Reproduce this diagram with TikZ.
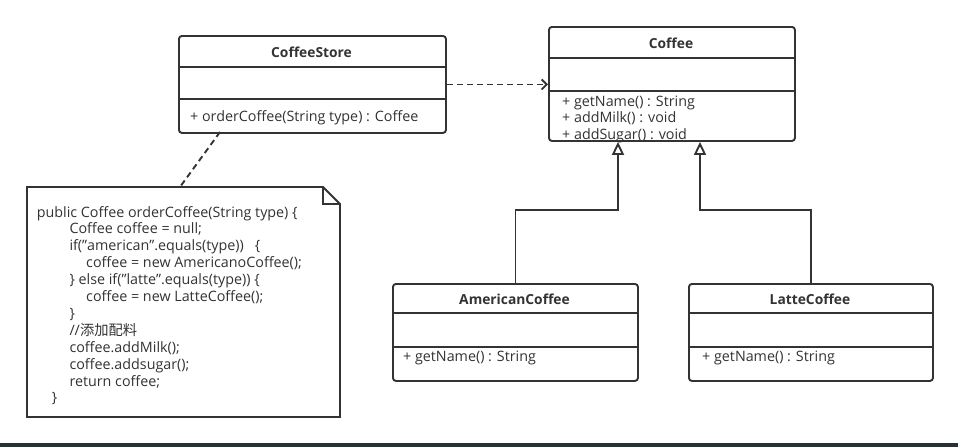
\documentclass[tikz,border=0pt]{standalone}
\usepackage{fontspec}
\setmainfont{Open Sans}
\newfontfamily\cjk{Noto Sans CJK SC}
\usetikzlibrary{arrows.meta}
\definecolor{ink}{HTML}{333333}
\definecolor{barc}{HTML}{263238}
\begin{document}
\begin{tikzpicture}[x=1pt,y=-1pt,
  box/.style={draw=ink, line width=1.9pt, rounded corners=3pt, anchor=north west, inner sep=0pt, fill=white},
  sep/.style={draw=ink, line width=1.9pt},
  title/.style={font=\fontsize{13.8}{16}\selectfont\bfseries, text=ink, anchor=base, inner sep=0pt},
  meth/.style={font=\fontsize{14.3}{16}\selectfont, text=ink, anchor=base west, inner sep=0pt},
  code/.style={font=\fontsize{14.3}{16}\selectfont, text=ink, anchor=base west, inner sep=0pt},
  dep/.style={draw=ink, line width=1.9pt, dash pattern=on 6pt off 4pt, -{Straight Barb[length=5pt,width=10pt]}},
  notelink/.style={draw=ink, line width=1.9pt, dash pattern=on 6pt off 4pt},
  gen/.style={draw=ink, line width=1.9pt, -{Triangle[open,length=13pt,width=12pt,fill=white]}},
]
\useasboundingbox (0,0) rectangle (958,447);
\fill[white] (0,0) rectangle (958,447);
\fill[barc] (0,443) rectangle (958,447);

% CoffeeStore
\node[box, minimum width=267pt, minimum height=97pt] (cs) at (178,35) {};
\draw[sep] (178,67) -- (445,67);
\draw[sep] (178,99) -- (445,99);
\node[title] (cst) at (311.5,57) {CoffeeStore};
\node[meth] (csm) at (190,121.5) {+ orderCoffee(String type) : Coffee};

% Coffee
\node[box, minimum width=246pt, minimum height=114pt] (co) at (548,26) {};
\draw[sep] (548,58) -- (794,58);
\draw[sep] (548,91) -- (794,91);
\node[title] (cot) at (671,48.3) {Coffee};
\node[meth] (com1) at (562,106.7) {+ getName() : String};
\node[meth] (com2) at (562,122.7) {+ addMilk() : void};
\node[meth] (com3) at (562,139.3) {+ addSugar() : void};

% AmericanCoffee
\node[box, minimum width=245pt, minimum height=97pt] (ac) at (392,283) {};
\draw[sep] (392,313) -- (637,313);
\draw[sep] (392,347) -- (637,347);
\node[title] (act) at (514.5,304.3) {AmericanCoffee};
\node[meth] (acm) at (403,361.7) {+ getName() : String};

% LatteCoffee
\node[box, minimum width=244pt, minimum height=97pt] (lc) at (688,283) {};
\draw[sep] (688,313) -- (932,313);
\draw[sep] (688,347) -- (932,347);
\node[title] (lct) at (810,304.3) {LatteCoffee};
\node[meth] (lcm) at (702,361.7) {+ getName() : String};

% dependency
\draw[dep] (cs.east) -- (cs.east -| co.west);

% generalizations
\coordinate (j1) at (618,210);
\coordinate (j2) at (700,210);
\draw[gen] (ac.north) |- (j1) -- (j1 |- co.south);
\draw[gen] (lc.north) |- (j2) -- (j2 |- co.south);

% note
\draw[ink, line width=1.9pt, fill=white] (27,187) -- (323,187) -- (340,204) -- (340,417) -- (27,417) -- cycle;
\draw[ink, line width=1.9pt] (323,187) -- (323,204) -- (340,204);
\coordinate (ns) at (220,132);
\coordinate (nt) at (180,187);
\draw[notelink] (ns) -- (nt);

\node[code] (n0) at (36.7,217.0) {public Coffee orderCoffee(String type) \{};
\node[code] (n1) at (69.3,233.9) {Coffee coffee = null;};
\node[code] (n2) at (69.3,250.8) {if("american".equals(type))\ \ \ \{};
\node[code] (n3) at (86,267.7) {coffee = new AmericanoCoffee();};
\node[code] (n4) at (69.3,284.6) {\} else if("latte".equals(type)) \{};
\node[code] (n5) at (86,301.5) {coffee = new LatteCoffee();};
\node[code] (n6) at (69.3,318.4) {\}};
\node[code] (n7) at (69.3,335.3) {//{\cjk 添加配料}};
\node[code] (n8) at (69.3,352.2) {coffee.addMilk();};
\node[code] (n9) at (69.3,369.1) {coffee.addsugar();};
\node[code] (n10) at (69.3,386.0) {return coffee;};
\node[code] (n11) at (51.7,402.9) {\}};
\end{tikzpicture}
\end{document}
